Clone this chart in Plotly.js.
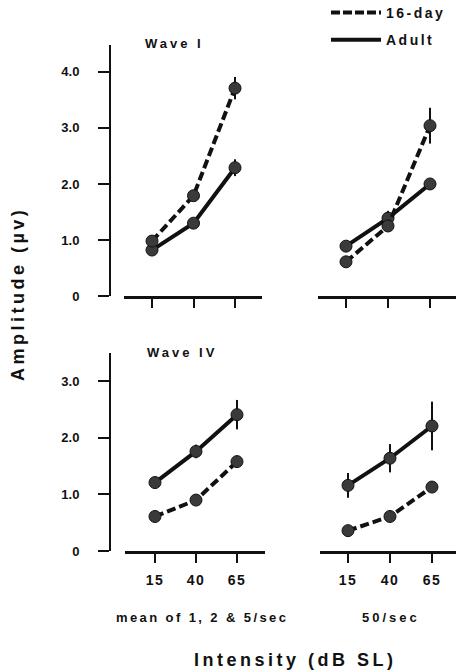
<!DOCTYPE html>
<html>
<head>
<meta charset="utf-8">
<script src="https://cdn.plot.ly/plotly-3.0.1.min.js"></script>
<style>
  html, body { margin: 0; padding: 0; background: #fff; }
  #chart { width: 456px; height: 672px; }
</style>
</head>
<body>
<div id="chart"></div>
<script>
// ---- data ----
const intensity = [15, 40, 65];               // dB SL
const xTickLabels = ['15', '40', '65'];
const yTickValsTop = [0, 1, 2, 3, 4];
const yTickTextTop = ['0', '1.0', '2.0', '3.0', '4.0'];
const yTickValsBot = [0, 1, 2, 3];
const yTickTextBot = ['0', '1.0', '2.0', '3.0'];

// Wave I, mean of 1, 2 & 5/sec
const w1LowPup   = [0.98, 1.79, 3.71];
const w1LowPupE  = [0.07, 0.07, 0.20];
const w1LowAdult = [0.82, 1.30, 2.29];
const w1LowAdultE= [0.05, 0.06, 0.15];
// Wave I, 50/sec
const w1HiPup    = [0.61, 1.25, 3.04];
const w1HiPupE   = [0.05, 0.08, 0.32];
const w1HiAdult  = [0.89, 1.39, 2.00];
const w1HiAdultE = [0.06, 0.13, 0.05];
// Wave IV, mean of 1, 2 & 5/sec
const w4LowPup   = [0.61, 0.90, 1.58];
const w4LowPupE  = [0.05, 0.05, 0.06];
const w4LowAdult = [1.21, 1.76, 2.41];
const w4LowAdultE= [0.10, 0.12, 0.26];
// Wave IV, 50/sec
const w4HiPup    = [0.36, 0.61, 1.13];
const w4HiPupE   = [0.04, 0.07, 0.07];
const w4HiAdult  = [1.16, 1.64, 2.21];
const w4HiAdultE = [0.22, 0.25, 0.43];

const seriesNames = ['16-day', 'Adult'];

// ---- styling helpers ----
const FONT = 'Liberation Sans, Arial, sans-serif';
const W = 456, H = 672;
const px = v => v / W;
const py = v => 1 - v / H;
const sp = (t, s) => '<span style="letter-spacing:' + s + 'px">' + t + '</span>';

const markerStyle = { symbol: 'circle', size: 12, color: '#3a3a3a', line: { color: '#111', width: 1 } };

function trace(y, err, dashed, xa, ya) {
  return {
    x: intensity, y: y, xaxis: xa, yaxis: ya,
    type: 'scatter', mode: 'lines+markers', showlegend: false,
    line: { color: '#111', width: 4, dash: dashed ? '9px,4px' : 'solid' },
    marker: markerStyle,
    error_y: { type: 'data', array: err, visible: true, color: '#111', thickness: 2, width: 0 },
    hoverinfo: 'skip'
  };
}

const data = [
  trace(w1LowAdult, w1LowAdultE, false, 'x', 'y'),
  trace(w1LowPup, w1LowPupE, true, 'x', 'y'),
  trace(w1HiAdult, w1HiAdultE, false, 'x2', 'y'),
  trace(w1HiPup, w1HiPupE, true, 'x2', 'y'),
  trace(w4LowAdult, w4LowAdultE, false, 'x3', 'y3'),
  trace(w4LowPup, w4LowPupE, true, 'x3', 'y3'),
  trace(w4HiAdult, w4HiAdultE, false, 'x4', 'y3'),
  trace(w4HiPup, w4HiPupE, true, 'x4', 'y3'),
  // legend entries
  { x: [null], y: [null], type: 'scatter', mode: 'lines', name: sp(seriesNames[0], 2.5),
    line: { color: '#111', width: 4, dash: '9px,3px' }, legendgroup: 'a', showlegend: true, xaxis: 'x', yaxis: 'y' },
  { x: [null], y: [null], type: 'scatter', mode: 'lines', name: sp(seriesNames[1], 2.5),
    line: { color: '#111', width: 4 }, legendgroup: 'b', showlegend: true, xaxis: 'x', yaxis: 'y' }
];

function xax(d0, d1, r0, r1, anchor, labels) {
  return {
    domain: [px(d0), px(d1)], range: [r0, r1], anchor: anchor,
    showline: true, linecolor: '#111', linewidth: 3, zeroline: false, showgrid: false,
    ticks: 'outside', ticklen: 9, tickwidth: 2, tickcolor: '#111',
    tickvals: intensity, ticktext: xTickLabels.map(t => sp(t, 1.5)),
    showticklabels: labels, ticklabelstandoff: 5,
    tickfont: { family: FONT, size: 14, color: '#111', weight: 'bold' },
    fixedrange: true
  };
}
function yax(d0, d1, r1, vals, text) {
  return {
    domain: [py(d1), py(d0)], range: [0, r1], anchor: 'free', position: px(110),
    showline: true, linecolor: '#111', linewidth: 2, zeroline: false, showgrid: false,
    ticks: 'outside', ticklen: 11, tickwidth: 2, tickcolor: '#111',
    tickvals: vals, ticktext: text, ticklabelstandoff: 16,
    tickfont: { family: FONT, size: 13, color: '#111', weight: 'bold' },
    fixedrange: true
  };
}

const annFont = (s) => ({ family: FONT, size: s, color: '#111', weight: 'bold' });
function ann(text, x, y, size, angle) {
  return { text: text, x: px(x), y: py(y), xref: 'paper', yref: 'paper', xanchor: 'center', yanchor: 'middle',
           showarrow: false, textangle: angle || 0, font: annFont(size) };
}
const layout = {
  width: W, height: H,
  margin: { l: 0, r: 0, t: 0, b: 0, autoexpand: false },
  paper_bgcolor: '#fff', plot_bgcolor: 'rgba(0,0,0,0)',
  font: { family: FONT, color: '#111' },
  xaxis:  xax(124, 262, -1.87, 81.26, 'y', false),
  xaxis2: xax(318, 456, -1.67, 80.47, 'y', false),
  xaxis3: xax(125, 265, -3.29, 82.08, 'y3', true),
  xaxis4: xax(320, 456, -1.67, 79.3, 'y3', true),
  yaxis:  yax(45, 296, 4.48, yTickValsTop, yTickTextTop),
  yaxis3: yax(353, 551, 3.5, yTickValsBot, yTickTextBot),
  showlegend: true,
  legend: {
    x: px(326), y: py(-3), xanchor: 'left', yanchor: 'top',
    bgcolor: 'rgba(0,0,0,0)', borderwidth: 0, itemwidth: 50, tracegroupgap: 6,
    font: { family: FONT, size: 14, color: '#111', weight: 'bold' },
    itemclick: false, itemdoubleclick: false
  },
  annotations: [
    ann(sp('Wave I', 3), 174, 43, 13),
    ann(sp('Wave IV', 3), 182, 352, 13),
    ann(sp('mean of 1, 2 &amp; 5/sec', 2.4), 202, 617, 13),
    ann(sp('50/sec', 3), 391, 617, 13),
    ann(sp('Intensity (dB SL)', 3.5), 295, 660, 18),
    ann(sp('Amplitude (µv)', 3.5), 18, 294, 18, -90)
  ]
};

Plotly.newPlot('chart', data, layout, { displayModeBar: false, staticPlot: true });
</script>
</body>
</html>
